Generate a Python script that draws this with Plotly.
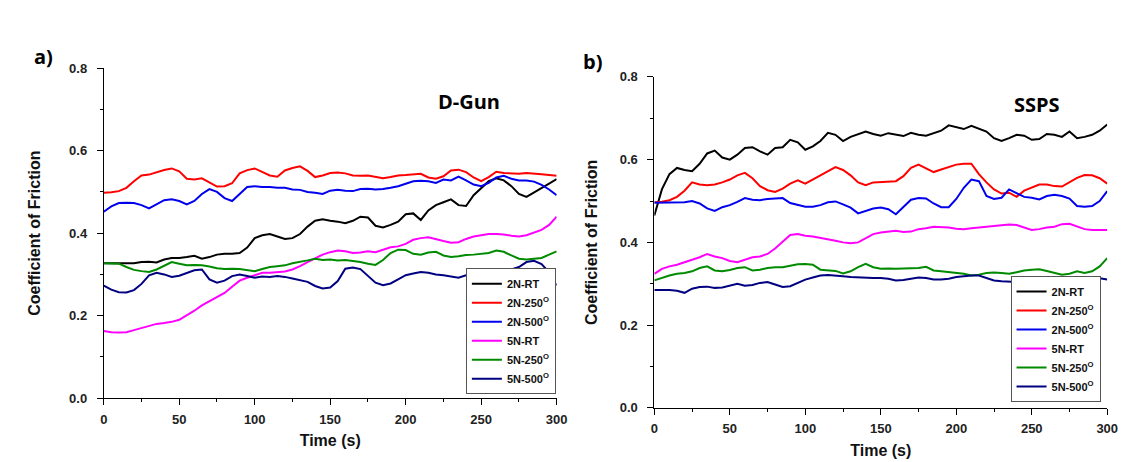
import plotly.graph_objects as go

# ---------------- data ----------------
time_s = list(range(0, 301, 5))

series_names = ["2N-RT", "2N-250<sup>O</sup>", "2N-500<sup>O</sup>",
                "5N-RT", "5N-250<sup>O</sup>", "5N-500<sup>O</sup>"]
series_colors = ["#000000", "#ff0000", "#0000ee", "#ff00ff", "#008a00", "#000080"]

# Panel a) D-Gun
dgun_2n_rt = [0.327, 0.327, 0.328, 0.327, 0.327, 0.330, 0.331, 0.329, 0.336, 0.340,
              0.340, 0.342, 0.345, 0.338, 0.342, 0.348, 0.350, 0.350, 0.352, 0.365,
              0.388, 0.395, 0.398, 0.392, 0.386, 0.388, 0.398, 0.416, 0.430, 0.434,
              0.430, 0.428, 0.424, 0.430, 0.440, 0.438, 0.418, 0.414, 0.420, 0.428,
              0.446, 0.448, 0.432, 0.455, 0.468, 0.475, 0.482, 0.468, 0.466, 0.492,
              0.510, 0.526, 0.533, 0.528, 0.514, 0.495, 0.488, 0.498, 0.508, 0.520,
              0.531]
dgun_2n_250 = [0.498, 0.499, 0.502, 0.510, 0.526, 0.540, 0.542, 0.548, 0.553, 0.557,
               0.550, 0.532, 0.530, 0.533, 0.522, 0.513, 0.514, 0.521, 0.545, 0.553,
               0.557, 0.548, 0.540, 0.537, 0.552, 0.558, 0.562, 0.551, 0.536, 0.540,
               0.546, 0.547, 0.545, 0.540, 0.539, 0.540, 0.536, 0.533, 0.536, 0.540,
               0.541, 0.543, 0.544, 0.535, 0.532, 0.538, 0.552, 0.554, 0.548, 0.535,
               0.526, 0.536, 0.549, 0.546, 0.545, 0.544, 0.546, 0.545, 0.543, 0.541,
               0.539]
dgun_2n_500 = [0.452, 0.465, 0.473, 0.474, 0.473, 0.468, 0.460, 0.470, 0.480, 0.482,
               0.478, 0.470, 0.478, 0.495, 0.507, 0.500, 0.485, 0.478, 0.495, 0.512,
               0.514, 0.512, 0.512, 0.510, 0.510, 0.506, 0.505, 0.500, 0.498, 0.495,
               0.503, 0.505, 0.503, 0.502, 0.507, 0.508, 0.506, 0.507, 0.510, 0.514,
               0.520, 0.526, 0.527, 0.526, 0.522, 0.530, 0.528, 0.537, 0.528, 0.518,
               0.514, 0.522, 0.535, 0.539, 0.532, 0.528, 0.528, 0.525, 0.517, 0.506,
               0.492]
dgun_5n_rt = [0.163, 0.160, 0.159, 0.160, 0.165, 0.170, 0.174, 0.180, 0.182, 0.185,
              0.190, 0.200, 0.212, 0.225, 0.235, 0.243, 0.255, 0.270, 0.285, 0.292,
              0.298, 0.304, 0.304, 0.305, 0.307, 0.312, 0.320, 0.330, 0.340, 0.348,
              0.354, 0.358, 0.356, 0.352, 0.353, 0.356, 0.354, 0.360, 0.366, 0.368,
              0.374, 0.384, 0.388, 0.390, 0.385, 0.381, 0.377, 0.378, 0.386, 0.392,
              0.395, 0.398, 0.398, 0.397, 0.394, 0.392, 0.395, 0.402, 0.408, 0.420,
              0.440]
dgun_5n_250 = [0.327, 0.327, 0.326, 0.318, 0.311, 0.308, 0.306, 0.312, 0.322, 0.330,
               0.326, 0.322, 0.323, 0.322, 0.319, 0.315, 0.313, 0.314, 0.313, 0.310,
               0.308, 0.313, 0.318, 0.320, 0.322, 0.327, 0.330, 0.334, 0.338, 0.335,
               0.336, 0.334, 0.335, 0.333, 0.330, 0.326, 0.323, 0.335, 0.352, 0.360,
               0.359, 0.350, 0.348, 0.353, 0.355, 0.346, 0.342, 0.344, 0.347, 0.348,
               0.350, 0.352, 0.358, 0.355, 0.346, 0.338, 0.336, 0.338, 0.340, 0.348,
               0.356]
dgun_5n_500 = [0.273, 0.263, 0.257, 0.256, 0.262, 0.277, 0.298, 0.304, 0.300, 0.294,
               0.297, 0.304, 0.310, 0.312, 0.288, 0.280, 0.285, 0.296, 0.300, 0.296,
               0.292, 0.295, 0.294, 0.296, 0.294, 0.290, 0.286, 0.282, 0.272, 0.266,
               0.268, 0.284, 0.314, 0.317, 0.313, 0.296, 0.280, 0.274, 0.278, 0.288,
               0.298, 0.302, 0.306, 0.304, 0.300, 0.298, 0.295, 0.292, 0.298, 0.300,
               0.302, 0.304, 0.305, 0.306, 0.312, 0.318, 0.330, 0.333, 0.325, 0.305,
               0.273]

# Panel b) SSPS
ssps_2n_rt = [0.465, 0.528, 0.565, 0.580, 0.575, 0.572, 0.590, 0.615, 0.622, 0.605,
              0.600, 0.612, 0.628, 0.630, 0.620, 0.612, 0.628, 0.630, 0.648, 0.642,
              0.624, 0.632, 0.645, 0.665, 0.660, 0.645, 0.655, 0.662, 0.668, 0.662,
              0.658, 0.664, 0.660, 0.657, 0.665, 0.660, 0.658, 0.664, 0.670, 0.683,
              0.678, 0.674, 0.682, 0.675, 0.668, 0.652, 0.645, 0.652, 0.660, 0.658,
              0.648, 0.650, 0.662, 0.660, 0.655, 0.668, 0.652, 0.655, 0.660, 0.670,
              0.685]
ssps_2n_250 = [0.497, 0.498, 0.502, 0.510, 0.525, 0.545, 0.540, 0.538, 0.540, 0.545,
               0.552, 0.562, 0.568, 0.555, 0.536, 0.526, 0.522, 0.530, 0.542, 0.550,
               0.542, 0.552, 0.560, 0.570, 0.582, 0.575, 0.562, 0.545, 0.538, 0.545,
               0.546, 0.546, 0.548, 0.560, 0.580, 0.588, 0.580, 0.570, 0.576, 0.582,
               0.588, 0.590, 0.590, 0.565, 0.545, 0.528, 0.518, 0.520, 0.510, 0.525,
               0.532, 0.540, 0.540, 0.536, 0.535, 0.545, 0.556, 0.563, 0.562, 0.555,
               0.542]
ssps_2n_500 = [0.496, 0.496, 0.496, 0.496, 0.497, 0.500, 0.494, 0.482, 0.476, 0.485,
               0.490, 0.498, 0.507, 0.503, 0.502, 0.505, 0.506, 0.507, 0.495, 0.490,
               0.486, 0.486, 0.490, 0.497, 0.499, 0.492, 0.484, 0.470, 0.476, 0.482,
               0.484, 0.480, 0.468, 0.485, 0.503, 0.507, 0.506, 0.494, 0.485, 0.485,
               0.505, 0.532, 0.552, 0.548, 0.512, 0.505, 0.508, 0.528, 0.518, 0.510,
               0.508, 0.504, 0.512, 0.515, 0.512, 0.506, 0.488, 0.486, 0.488, 0.500,
               0.524]
ssps_5n_rt = [0.324, 0.336, 0.342, 0.346, 0.352, 0.358, 0.364, 0.372, 0.366, 0.362,
              0.355, 0.352, 0.358, 0.364, 0.366, 0.372, 0.385, 0.402, 0.418, 0.420,
              0.416, 0.414, 0.411, 0.408, 0.404, 0.400, 0.398, 0.400, 0.410, 0.420,
              0.424, 0.426, 0.428, 0.425, 0.426, 0.432, 0.434, 0.438, 0.437, 0.436,
              0.433, 0.432, 0.434, 0.436, 0.438, 0.440, 0.442, 0.443, 0.442, 0.436,
              0.430, 0.432, 0.436, 0.438, 0.444, 0.445, 0.438, 0.432, 0.430, 0.430,
              0.430]
ssps_5n_250 = [0.308, 0.314, 0.320, 0.324, 0.326, 0.330, 0.338, 0.342, 0.332, 0.330,
               0.333, 0.338, 0.340, 0.332, 0.334, 0.338, 0.340, 0.340, 0.343, 0.347,
               0.348, 0.346, 0.334, 0.332, 0.331, 0.325, 0.330, 0.340, 0.348, 0.340,
               0.336, 0.337, 0.336, 0.337, 0.337, 0.338, 0.341, 0.332, 0.330, 0.328,
               0.326, 0.324, 0.320, 0.322, 0.326, 0.327, 0.326, 0.324, 0.328, 0.332,
               0.334, 0.335, 0.331, 0.326, 0.322, 0.324, 0.330, 0.326, 0.330, 0.342,
               0.362]
ssps_5n_500 = [0.285, 0.285, 0.285, 0.283, 0.278, 0.288, 0.292, 0.293, 0.290, 0.291,
               0.296, 0.300, 0.295, 0.297, 0.302, 0.304, 0.298, 0.292, 0.294, 0.303,
               0.310, 0.315, 0.320, 0.321, 0.320, 0.318, 0.316, 0.315, 0.315, 0.314,
               0.314, 0.312, 0.308, 0.309, 0.312, 0.315, 0.314, 0.310, 0.310, 0.312,
               0.316, 0.318, 0.320, 0.320, 0.314, 0.308, 0.306, 0.305, 0.304, 0.306,
               0.308, 0.309, 0.306, 0.304, 0.306, 0.308, 0.314, 0.316, 0.314, 0.313,
               0.310]

dgun_series = [dgun_2n_rt, dgun_2n_250, dgun_2n_500, dgun_5n_rt, dgun_5n_250, dgun_5n_500]
ssps_series = [ssps_2n_rt, ssps_2n_250, ssps_2n_500, ssps_5n_rt, ssps_5n_250, ssps_5n_500]

x_ticks = [0, 50, 100, 150, 200, 250, 300]
y_ticks = [0.0, 0.2, 0.4, 0.6, 0.8]

# ---------------- figure ----------------
W, H = 1127, 462
FONT = "Liberation Sans, Arial, sans-serif"

fig = go.Figure()
for vals, name, col in zip(dgun_series, series_names, series_colors):
    fig.add_trace(go.Scatter(x=time_s, y=vals, mode="lines", name=name,
                             line=dict(color=col, width=2), xaxis="x", yaxis="y",
                             legend="legend"))
for vals, name, col in zip(ssps_series, series_names, series_colors):
    fig.add_trace(go.Scatter(x=time_s, y=vals, mode="lines", name=name,
                             line=dict(color=col, width=2), xaxis="x2", yaxis="y2",
                             legend="legend2"))

def px_x(p):
    return p / W

def px_y(p):
    return (H - p) / H

tickfont = dict(family=FONT, size=13, color="#222", weight="bold")
titlefont = dict(family=FONT, size=16, color="#111", weight="bold")

def xaxis(domain, anchor):
    return dict(domain=domain, anchor=anchor, range=[0, 300], tickvals=x_ticks,
                showline=True, linecolor="#000", linewidth=1, ticks="outside",
                ticklen=6, tickcolor="#000", tickwidth=1, showgrid=False, zeroline=False,
                tickfont=tickfont, ticklabelstandoff=3,
                minor=dict(dtick=25, ticks="outside", ticklen=3, tickcolor="#000", showgrid=False),
                title=dict(text="Time (s)", font=titlefont, standoff=9))

def yaxis(domain, anchor, standoff):
    return dict(domain=domain, anchor=anchor, range=[0, 0.8], tickvals=y_ticks,
                tickformat=".1f",
                showline=True, linecolor="#000", linewidth=1, ticks="outside",
                ticklen=6, tickcolor="#000", tickwidth=1, showgrid=False, zeroline=False,
                tickfont=tickfont, ticklabelstandoff=7,
                minor=dict(dtick=0.1, ticks="outside", ticklen=3, tickcolor="#000", showgrid=False),
                title=dict(text="Coefficient of Friction", font=titlefont, standoff=standoff))

legend_font = dict(family=FONT, size=11, color="#111", weight="bold")

fig.update_layout(
    width=W, height=H,
    margin=dict(l=0, r=0, t=0, b=0),
    paper_bgcolor="white", plot_bgcolor="white",
    xaxis=xaxis([px_x(93), px_x(552)], "y"),
    yaxis=yaxis([px_y(396), px_y(55)], "x", 24),
    xaxis2=xaxis([px_x(651), px_x(1110)], "y2"),
    yaxis2=yaxis([px_y(406), px_y(64)], "x2", 18),
    legend=dict(x=px_x(460), y=px_y(392), xanchor="left", yanchor="bottom",
                bgcolor="white", bordercolor="#555", borderwidth=1,
                font=legend_font, itemwidth=30, tracegroupgap=0),
    legend2=dict(x=px_x(1012), y=px_y(400), xanchor="left", yanchor="bottom",
                 bgcolor="white", bordercolor="#555", borderwidth=1,
                 font=legend_font, itemwidth=30, tracegroupgap=0),
    showlegend=True,
)

label_font = dict(family="Open Sans, sans-serif", size=20, color="#000", weight="bold")
fig.add_annotation(text="a)", x=px_x(20), y=px_y(27), xref="paper", yref="paper",
                   showarrow=False, font=label_font)
fig.add_annotation(text="b)", x=px_x(588), y=px_y(32), xref="paper", yref="paper",
                   showarrow=False, font=label_font)
fig.add_annotation(text="D-Gun", x=px_x(463), y=px_y(73), xref="paper", yref="paper",
                   showarrow=False, font=label_font)
fig.add_annotation(text="SSPS", x=px_x(1064), y=px_y(76), xref="paper", yref="paper",
                   showarrow=False, font=label_font)

fig.write_html("out.html")
